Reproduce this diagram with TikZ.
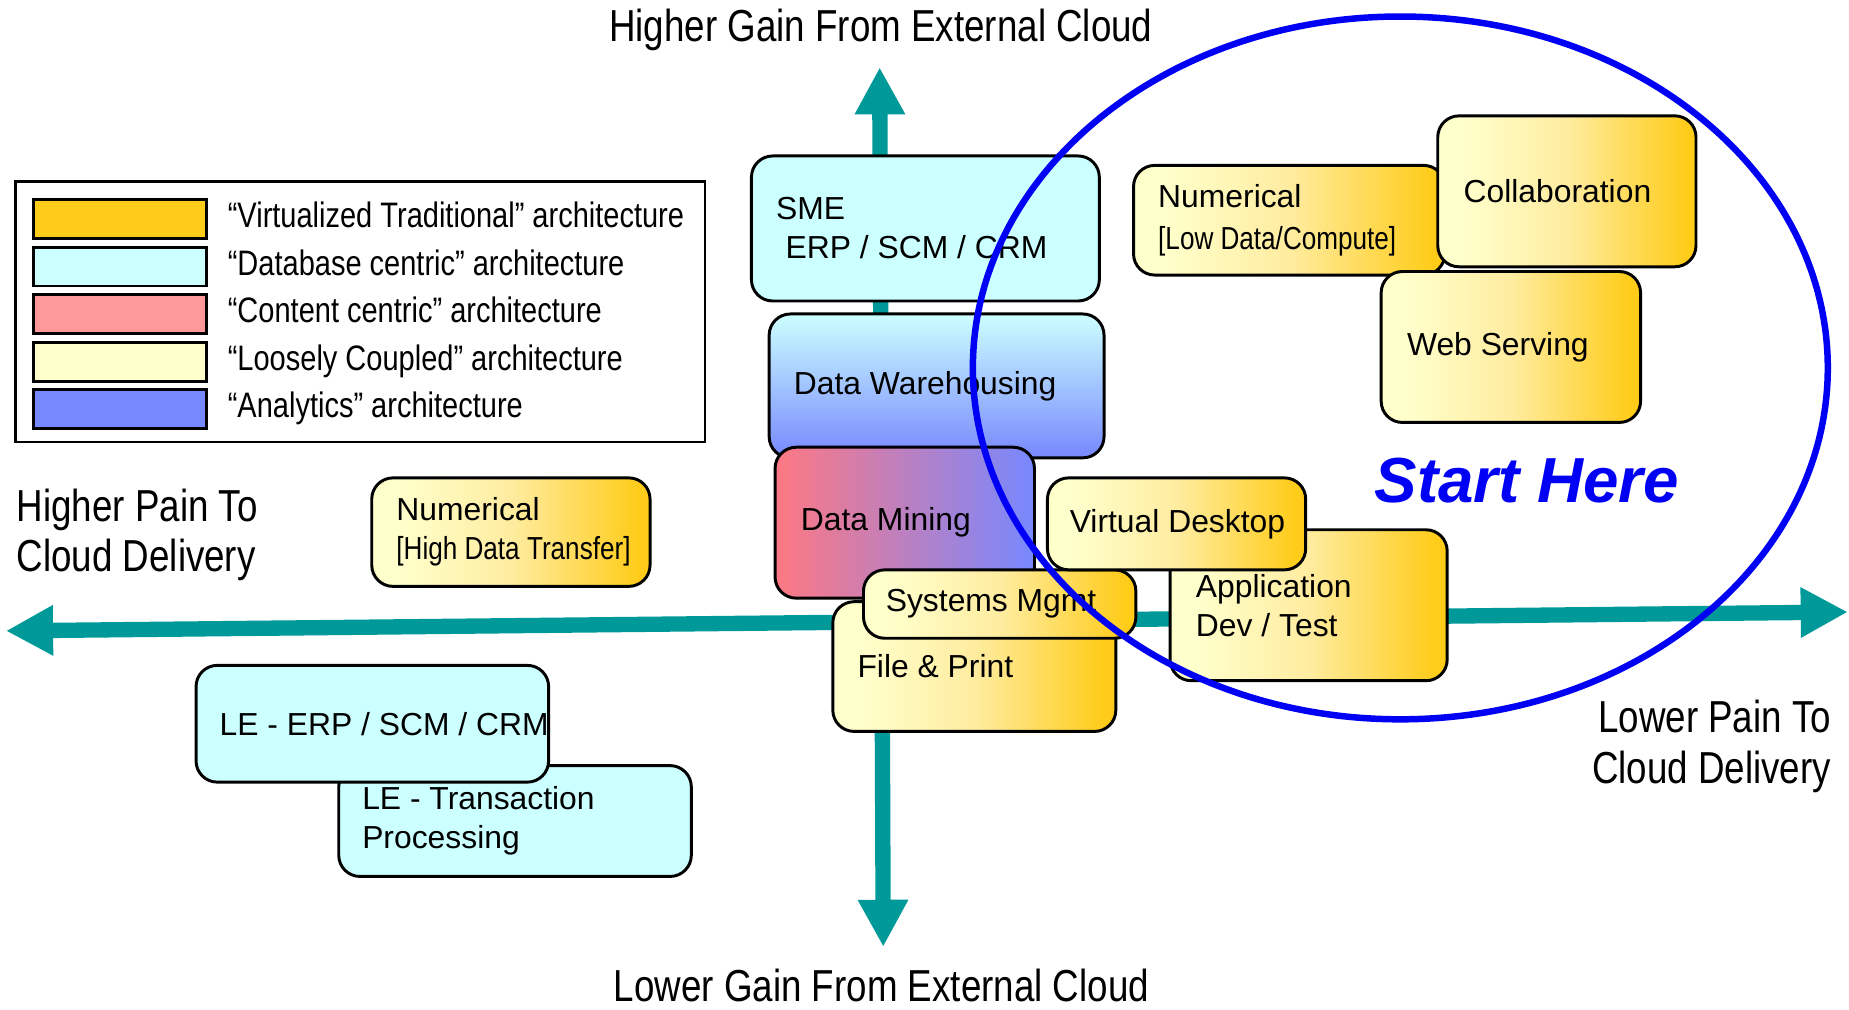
\documentclass[tikz,border=0pt]{standalone}
\usepackage{fontspec}
\setmainfont{Liberation Sans}
\newfontfamily\narrowf[FakeStretch=0.82]{Liberation Sans}
\usetikzlibrary{arrows.meta}
\definecolor{gold}{RGB}{255,204,26}
\definecolor{lyel}{RGB}{255,255,204}
\definecolor{ymid}{RGB}{255,236,160}
\definecolor{cyanb}{RGB}{204,255,255}
\definecolor{pinkc}{RGB}{255,153,153}
\definecolor{pinkd}{RGB}{255,120,130}
\definecolor{bluea}{RGB}{119,136,255}
\definecolor{tealc}{RGB}{0,153,153}
\definecolor{ringc}{RGB}{0,0,245}
\pgfdeclarehorizontalshading{yshade}{100bp}{color(0bp)=(lyel); color(30bp)=(lyel); color(50bp)=(ymid); color(73bp)=(gold); color(100bp)=(gold)}
\tikzset{
  box/.style={draw=black, line width=2.5pt, rounded corners=18pt, inner sep=0pt, anchor=north west},
  ybox/.style={box, shading=yshade},
  cbox/.style={box, fill=cyanb},
  dwbox/.style={box, top color=cyanb, bottom color=bluea},
  dmbox/.style={box, left color=pinkd, right color=bluea},
  btxt/.style={anchor=west, align=left, inner sep=0pt, font=\fontsize{27}{33}\selectfont},
  axisarrow/.style={draw=tealc, line width=13pt, {Triangle[length=40pt,width=40pt]}-{Triangle[length=40pt,width=40pt]}},
  axl/.style={inner sep=0pt, font=\narrowf\fontsize{38}{43}\selectfont},
  swatch/.style={draw=black, line width=2.5pt, inner sep=0pt, anchor=north west, minimum width=147pt, minimum height=33pt},
  legtxt/.style={inner sep=0pt, anchor=base west, font=\narrowf\fontsize{30}{34}\selectfont},
}
\begin{document}
\begin{tikzpicture}[x=1pt,y=-1pt]
\fill[white] (0,0) rectangle (1568,856.5);
\useasboundingbox (0,0) rectangle (1568,856.5);

% axes
\coordinate (vT) at (746,57);
\coordinate (vB) at (749,803);
\coordinate (hL) at (5,535);
\coordinate (hR) at (1567,519);
\draw[axisarrow] (vT) -- (vB);
\draw[axisarrow] (hL) -- (hR);

% axis labels
\node[axl, anchor=base] (topl) at (747,35) {Higher Gain From External Cloud};
\node[axl, anchor=base] (botl) at (747.5,849) {Lower Gain From External Cloud};
\node[axl, anchor=base west] (left1) at (14,442) {Higher Pain To};
\node[axl, anchor=base west] (left2) at (14,485) {Cloud Delivery};
\node[axl, anchor=base east] (right1) at (1553,621) {Lower Pain To};
\node[axl, anchor=base east] (right2) at (1553,664) {Cloud Delivery};

% legend
\node[draw=black, line width=2pt, inner sep=0pt, anchor=north west, minimum width=585pt, minimum height=221pt] (leg) at (12,153) {};
\node[swatch, fill=gold] (sw1) at (27,168) {};
\node[swatch, fill=cyanb] (sw2) at (27,208.3) {};
\node[swatch, fill=pinkc] (sw3) at (27,248.6) {};
\node[swatch, fill=lyel] (sw4) at (27,288.9) {};
\node[swatch, fill=bluea] (sw5) at (27,329.2) {};
\node[legtxt] (lt1) at (193,193) {“Virtualized Traditional” architecture};
\node[legtxt] (lt2) at (193,233.3) {“Database centric” architecture};
\node[legtxt] (lt3) at (193,273.6) {“Content centric” architecture};
\node[legtxt] (lt4) at (193,313.9) {“Loosely Coupled” architecture};
\node[legtxt] (lt5) at (193,354.2) {“Analytics” architecture};

% left boxes
\node[cbox, minimum width=299pt, minimum height=94pt] (le2) at (286,648) {};
\node[btxt] (le2t) at ([xshift=21pt]le2.west) {LE - Transaction\\Processing};
\node[cbox, minimum width=299pt, minimum height=99pt] (le1) at (165,563) {};
\node[btxt] (le1t) at ([xshift=21pt]le1.west) {LE - ERP / SCM / CRM};
\node[ybox, minimum width=236pt, minimum height=92pt] (numh) at (314,404) {};
\node[btxt] (numht) at ([xshift=22pt]numh.west) {Numerical\\{\narrowf [High Data Transfer]}};

% centre stack
\node[cbox, minimum width=295pt, minimum height=123pt] (sme) at (636,131) {};
\node[btxt] (smet) at ([xshift=22pt]sme.west) {SME\\\hspace*{8pt}ERP / SCM / CRM};
\node[dwbox, minimum width=284pt, minimum height=122pt] (dw) at (651,265) {};
\node[btxt] (dwt) at ([xshift=22pt]dw.west) {Data Warehousing};
\node[dmbox, minimum width=220pt, minimum height=128pt] (dm) at (656,378) {};
\node[btxt] (dmt) at ([xshift=23pt]dm.west) {Data Mining};
\node[ybox, minimum width=240pt, minimum height=110pt] (fp) at (705,509) {};
\node[btxt] (fpt) at ([xshift=22pt]fp.west) {File \& Print};
\node[ybox, minimum width=231pt, minimum height=58pt] (sm) at (731,482) {};
\node[btxt] (smt) at ([xshift=20pt]sm.west) {Systems Mgmt};
\node[ybox, minimum width=235pt, minimum height=128pt] (app) at (991,448) {};
\node[btxt] (appt) at ([xshift=23pt]app.west) {Application\\Dev / Test};
\node[ybox, minimum width=219pt, minimum height=78pt] (vd) at (887,404) {};
\node[btxt] (vdt) at ([xshift=20pt]vd.west) {Virtual Desktop};

% top right
\node[ybox, minimum width=264pt, minimum height=93pt] (numl) at (960,139) {};
\node[btxt] (numlt) at ([xshift=22pt]numl.west) {Numerical\\[3pt]{\narrowf [Low Data/Compute]}};
\node[ybox, minimum width=220pt, minimum height=128pt] (web) at (1170,229) {};
\node[btxt] (webt) at ([xshift=23pt]web.west) {Web Serving};
\node[ybox, minimum width=219pt, minimum height=128pt] (col) at (1218,97) {};
\node[btxt] (colt) at ([xshift=23pt]col.west) {Collaboration};

\node[inner sep=0pt, anchor=base, text=ringc, font=\fontsize{54}{60}\selectfont\bfseries\itshape] (start) at (1295,426) {Start Here};

% ring
\draw[draw=ringc, line width=5.5pt] (1187.5,312) ellipse [x radius=362.5pt, y radius=298pt];
\end{tikzpicture}
\end{document}
